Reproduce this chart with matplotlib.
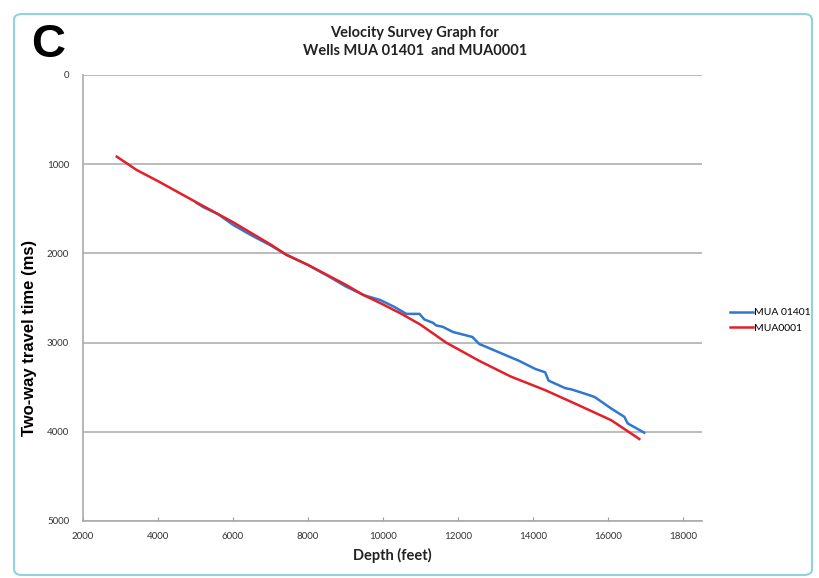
import matplotlib
matplotlib.use("Agg")
import matplotlib.pyplot as plt
from matplotlib.patches import FancyBboxPatch

# Data
mua01401_depth = [5030, 5200, 5600, 6000, 6500, 7000, 7400, 8000, 8600, 9000, 9500, 9920,
                  10300, 10620, 10970, 11100, 11330, 11410, 11590, 11860, 12380, 12560, 13000,
                  13620, 14060, 14320, 14410, 14850, 15030, 15380, 15640, 16080, 16430, 16520, 16960]
mua01401_time = [1435, 1480, 1560, 1680, 1800, 1910, 2010, 2130, 2270, 2370, 2470, 2522,
                 2600, 2678, 2678, 2741, 2778, 2807, 2823, 2881, 2937, 3015, 3093,
                 3204, 3296, 3333, 3426, 3510, 3526, 3573, 3610, 3739, 3832, 3906, 4010]
mua0001_depth = [2900, 3430, 4000, 4990, 6000, 7000, 7430, 8000, 9000, 9470, 9920, 10500,
                 11000, 11680, 12560, 13400, 14320, 15200, 16080, 16830]
mua0001_time = [915, 1065, 1190, 1420, 1650, 1900, 2018, 2130, 2350, 2466, 2556, 2680,
                2800, 3000, 3204, 3380, 3533, 3700, 3870, 4081]
x_ticks = [2000, 4000, 6000, 8000, 10000, 12000, 14000, 16000, 18000]
y_ticks = [0, 1000, 2000, 3000, 4000, 5000]

plt.rcParams['font.family'] = ['Lato', 'DejaVu Sans']

fig = plt.figure(figsize=(8.19, 5.78), dpi=100)
ax = fig.add_axes([83/819, 1-521/578, (702-83)/819, (521-75)/578])

ax.plot(mua01401_depth, mua01401_time, color="#2f78d0", lw=1.8, label="MUA 01401")
ax.plot(mua0001_depth, mua0001_time, color="#e3202a", lw=1.8, label="MUA0001")

ax.set_xlim(2000, 18500)
ax.set_ylim(5000, 0)
ax.set_xticks(x_ticks)
ax.set_yticks(y_ticks)
ax.tick_params(axis="both", labelsize=7, colors="#333333", length=3, color="#999999")
ax.tick_params(axis="x", direction="in", pad=8)
ax.tick_params(axis="y", length=0, pad=10)
ax.grid(axis="y", color="#b0b0b0", lw=1.2)
ax.set_axisbelow(True)
for s in ["top", "right"]:
    ax.spines[s].set_visible(False)
for s in ["left", "bottom"]:
    ax.spines[s].set_color("#aaaaaa")
    ax.spines[s].set_linewidth(1.2)

ax.set_xlabel("Depth (feet)", fontsize=10.5, fontweight="bold", color="#222222", labelpad=5)
ax.set_ylabel("Two-way travel time (ms)", fontsize=12, fontweight="bold", color="black",
              family=["Liberation Sans", "DejaVu Sans"])
ax.yaxis.set_label_coords(-0.074, 0.41)

fig.text(415/819, 1-42/578, "Velocity Survey Graph for\nWells MUA 01401  and MUA0001",
         ha="center", va="center", fontsize=10.5, fontweight="bold", color="#222222", linespacing=1.3)
fig.text(31/819, 1-45/578, "C", fontsize=34, fontweight="bold", ha="left", va="center",
         family=["Liberation Sans", "DejaVu Sans"])

ax.legend(loc="center left", bbox_to_anchor=(1.03, 0.45), frameon=False, fontsize=7.5,
          handlelength=2.2, handletextpad=0.1, labelspacing=0.6)

border = FancyBboxPatch((14/819, 3/578), (812-14)/819, (564-3)/578,
                        boxstyle="round,pad=0,rounding_size=0.01", transform=fig.transFigure,
                        fill=False, edgecolor="#8fd3dc", lw=1.5)
fig.patches.append(border)

fig.savefig("out.png", dpi=100)
